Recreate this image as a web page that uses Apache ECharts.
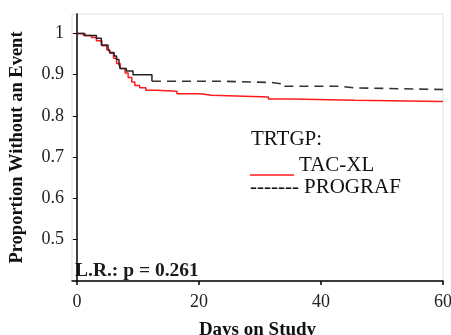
<!DOCTYPE html>
<html><head><meta charset="utf-8">
<script src="https://cdn.jsdelivr.net/npm/echarts@6/dist/echarts.min.js"></script>
<style>html,body{margin:0;padding:0;background:#fff}#c{width:451px;height:335px}</style>
</head><body><div id="c"></div>
<script>
// Kaplan-Meier step data (days, proportion without event)
const tacxlDays = [0, 1.05, 2.4, 3.2, 4.1, 4.9, 5.4, 6.0, 6.5, 7.1, 7.9, 8.4, 9.0, 9.5, 10.3, 11.3, 13.1, 16.4, 20.2, 22.1, 31.4, 35.2, 45.6, 60];
const tacxlSurv = [1.0, 0.995, 0.99, 0.982, 0.97, 0.96, 0.952, 0.94, 0.927, 0.915, 0.904, 0.893, 0.882, 0.874, 0.868, 0.862, 0.86, 0.854, 0.85, 0.846, 0.841, 0.838, 0.835, 0.835];
const prografDays = [0, 1.3, 3.2, 4.0, 5.1, 5.4, 6.1, 6.5, 6.9, 7.1, 8.1, 9.2, 12.3, 23.8, 31.9, 33.5, 43.0, 45.5, 60];
const prografSurv = [1.0, 0.995, 0.988, 0.972, 0.964, 0.954, 0.945, 0.937, 0.926, 0.915, 0.909, 0.900, 0.884, 0.881, 0.878, 0.872, 0.868, 0.864, 0.864];
const solidUntil = 12.3; // PROGRAF curve drawn solid until here, dashed afterwards
const xTicks = [0, 20, 40, 60];
const yTicks = [0.5, 0.6, 0.7, 0.8, 0.9, 1];
const groupTitle = 'TRTGP:';
const seriesNames = ['TAC-XL', 'PROGRAF'];
const pText = 'L.R.: p = 0.261';

const pair = (xs, ys) => xs.map((x, i) => [x, ys[i]]);
const prograf = pair(prografDays, prografSurv);
const progSolid = prograf.filter(p => p[0] <= solidUntil);
const progDash = prograf.filter(p => p[0] >= solidUntil);

const serif = '"Liberation Serif", "DejaVu Serif", serif';
const chart = echarts.init(document.getElementById('c'), null, {renderer: 'canvas'});
chart.setOption({
  animation: false,
  grid: {left: 72, right: 8, top: 14, bottom: 54, outerBoundsMode: 'none', containLabel: false,
         show: true, borderColor: '#e2e2e2', borderWidth: 1},
  xAxis: {
    type: 'value', min: -0.8, max: 60,
    name: 'Days on Study', nameLocation: 'middle', nameGap: 40,
    nameTextStyle: {fontFamily: serif, fontWeight: 'bold', fontSize: 19, color: '#111'},
    axisLine: {show: true, lineStyle: {color: '#000', width: 1.5}},
    axisTick: {show: true, length: 4, customValues: xTicks, lineStyle: {color: '#000', width: 1.5}},
    axisLabel: {customValues: xTicks, margin: 12, fontFamily: serif, fontSize: 18, color: '#222'},
    splitLine: {show: false}
  },
  yAxis: {
    type: 'value', min: 0.4, max: 1.047,
    name: 'Proportion Without an Event', nameLocation: 'middle', nameGap: 45,
    nameTextStyle: {fontFamily: serif, fontWeight: 'bold', fontSize: 18.5, color: '#111'},
    axisLine: {show: true, lineStyle: {color: '#000', width: 1.5}},
    axisTick: {show: true, length: 4, customValues: yTicks, lineStyle: {color: '#000', width: 1}},
    axisLabel: {customValues: yTicks, margin: 8, fontFamily: serif, fontSize: 18, color: '#222',
      formatter: v => String(Math.round(v * 10) / 10)},
    splitLine: {show: false}
  },
  series: [
    {name: seriesNames[0], type: 'line', step: 'end', symbol: 'none', data: pair(tacxlDays, tacxlSurv),
     lineStyle: {color: '#ff1a1a', width: 1.5}, z: 2},
    {name: seriesNames[1], type: 'line', step: 'end', symbol: 'none', data: progSolid,
     lineStyle: {color: '#222', width: 1.5}, z: 3},
    {name: seriesNames[1] + ' ', type: 'line', step: 'end', symbol: 'none', data: progDash,
     lineStyle: {color: '#333', width: 1.6, type: [9, 6]}, z: 3}
  ],
  graphic: [
    {type: 'text', left: 251, top: 129, style: {text: groupTitle, fontFamily: serif, fontSize: 21, fill: '#111'}},
    {type: 'line', shape: {x1: 250, y1: 175, x2: 294, y2: 175}, style: {stroke: '#ff1a1a', lineWidth: 1.5}},
    {type: 'text', left: 299, top: 155, style: {text: seriesNames[0], fontFamily: serif, fontSize: 21, fill: '#111'}},
    {type: 'text', left: 250, top: 177, style: {text: '-------', fontFamily: serif, fontSize: 21, fill: '#111'}},
    {type: 'text', left: 304, top: 177, style: {text: seriesNames[1], fontFamily: serif, fontSize: 21, fill: '#111'}},
    {type: 'text', left: 75, top: 261, style: {text: pText, fontFamily: serif, fontWeight: 'bold', fontSize: 19.5, fill: '#1a1a1a'}}
  ]
});
</script></body></html>
